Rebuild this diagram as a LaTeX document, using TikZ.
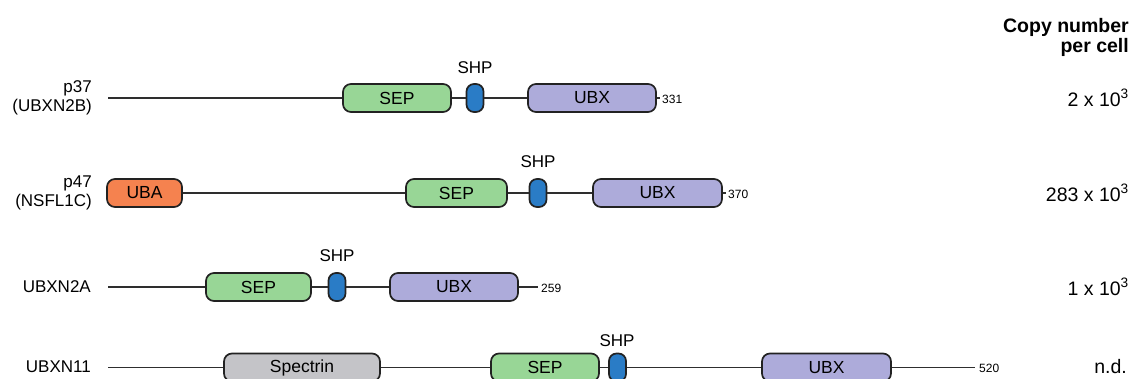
\documentclass[tikz,border=0pt]{standalone}
\usepackage{fontspec}
\setmainfont{Liberation Sans}
\definecolor{sepc}{HTML}{98D696}
\definecolor{shpc}{HTML}{2A7CC6}
\definecolor{ubxc}{HTML}{ADABDA}
\definecolor{ubac}{HTML}{F5824F}
\definecolor{spcc}{HTML}{C4C4C8}
\definecolor{edgec}{HTML}{222222}
\definecolor{linec}{HTML}{2E2E2E}
\begin{document}
\begin{tikzpicture}[x=1pt,y=-1pt,
  dom/.style={draw=edgec, line width=1.7pt, rounded corners=8pt, minimum height=28pt, inner sep=0pt, font=\fontsize{17.5}{20}\selectfont},
  sepbox/.style={dom, fill=sepc},
  shpbox/.style={dom, fill=shpc, rounded corners=7.5pt, minimum width=17pt},
  ubxbox/.style={dom, fill=ubxc},
  ubabox/.style={dom, fill=ubac},
  spcbox/.style={dom, fill=spcc},
  bb/.style={draw=linec, line width=1.7pt},
  lab/.style={font=\fontsize{17}{19}\selectfont, align=right, anchor=east, inner sep=0pt},
  shplab/.style={font=\fontsize{17}{20}\selectfont, inner sep=0pt},
  len/.style={font=\fontsize{12}{14}\selectfont, anchor=west, inner sep=0pt},
  cnt/.style={font=\fontsize{19.5}{22}\selectfont, anchor=east, inner sep=0pt, align=right}]
\useasboundingbox (0,0) rectangle (1131,379);
\clip (0,0) rectangle (1131,379);

% Row 1: p37
\node[lab] (n1) at (92,98) {p37\\(UBXN2B)};
\coordinate (s1) at (108,98);
\node[sepbox, minimum width=108pt] (sep1) at (397,98) {SEP};
\node[shpbox] (shp1) at (475,98) {};
\node[ubxbox, minimum width=128pt] (ubx1) at (592,98) {UBX};
\coordinate (e1) at (660,98);
\node[len] (l1) at (662,99) {331};
\node[shplab] (h1) at (475,68) {SHP};
\draw[bb] (s1) -- (sep1.west) (sep1.east) -- (shp1.west) (shp1.east) -- (ubx1.west) (ubx1.east) -- (e1);

% Row 2: p47
\node[lab] (n2) at (92,193) {p47\\(NSFL1C)};
\node[ubabox, minimum width=75pt] (uba2) at (144.5,193) {UBA};
\node[sepbox, minimum width=101pt] (sep2) at (456.5,193) {SEP};
\node[shpbox] (shp2) at (538,193) {};
\node[ubxbox, minimum width=129pt] (ubx2) at (657.5,193) {UBX};
\coordinate (e2) at (726,193);
\node[len] (l2) at (728,194) {370};
\node[shplab] (h2) at (538,162) {SHP};
\draw[bb] (uba2.east) -- (sep2.west) (sep2.east) -- (shp2.west) (shp2.east) -- (ubx2.west) (ubx2.east) -- (e2);

% Row 3: UBXN2A
\node[lab] (n3) at (91,287) {UBXN2A};
\coordinate (s3) at (108,287);
\node[sepbox, minimum width=105pt] (sep3) at (258.5,287) {SEP};
\node[shpbox] (shp3) at (337,287) {};
\node[ubxbox, minimum width=128pt] (ubx3) at (454,287) {UBX};
\coordinate (e3) at (538,287);
\node[len] (l3) at (541,288) {259};
\node[shplab] (h3) at (337,256) {SHP};
\draw[bb] (s3) -- (sep3.west) (sep3.east) -- (shp3.west) (shp3.east) -- (ubx3.west) (ubx3.east) -- (e3);

% Row 4: UBXN11
\node[lab] (n4) at (91,367) {UBXN11};
\coordinate (s4) at (108,367.5);
\node[spcbox, minimum width=156pt] (spc4) at (302,367.5) {Spectrin};
\node[sepbox, minimum width=108pt] (sep4) at (545,367.5) {SEP};
\node[shpbox] (shp4) at (617.5,367.5) {};
\node[ubxbox, minimum width=129pt] (ubx4) at (826.5,367.5) {UBX};
\coordinate (e4) at (975,367.5);
\node[len] (l4) at (979,368) {520};
\node[shplab] (h4) at (617,341) {SHP};
\draw[bb] (s4) -- (spc4.west) (spc4.east) -- (sep4.west) (sep4.east) -- (shp4.west) (shp4.east) -- (ubx4.west) (ubx4.east) -- (e4);

% Copy number column
\node[cnt, font=\fontsize{19.5}{20}\selectfont\bfseries] (hd) at (1129,37) {Copy number\\per cell};
\node[cnt] (c1) at (1129,98) {2 x 10\textsuperscript{3}};
\node[cnt] (c2) at (1129,193) {283 x 10\textsuperscript{3}};
\node[cnt] (c3) at (1129,287) {1 x 10\textsuperscript{3}};
\node[cnt] (c4) at (1127,367) {n.d.};
\end{tikzpicture}
\end{document}
